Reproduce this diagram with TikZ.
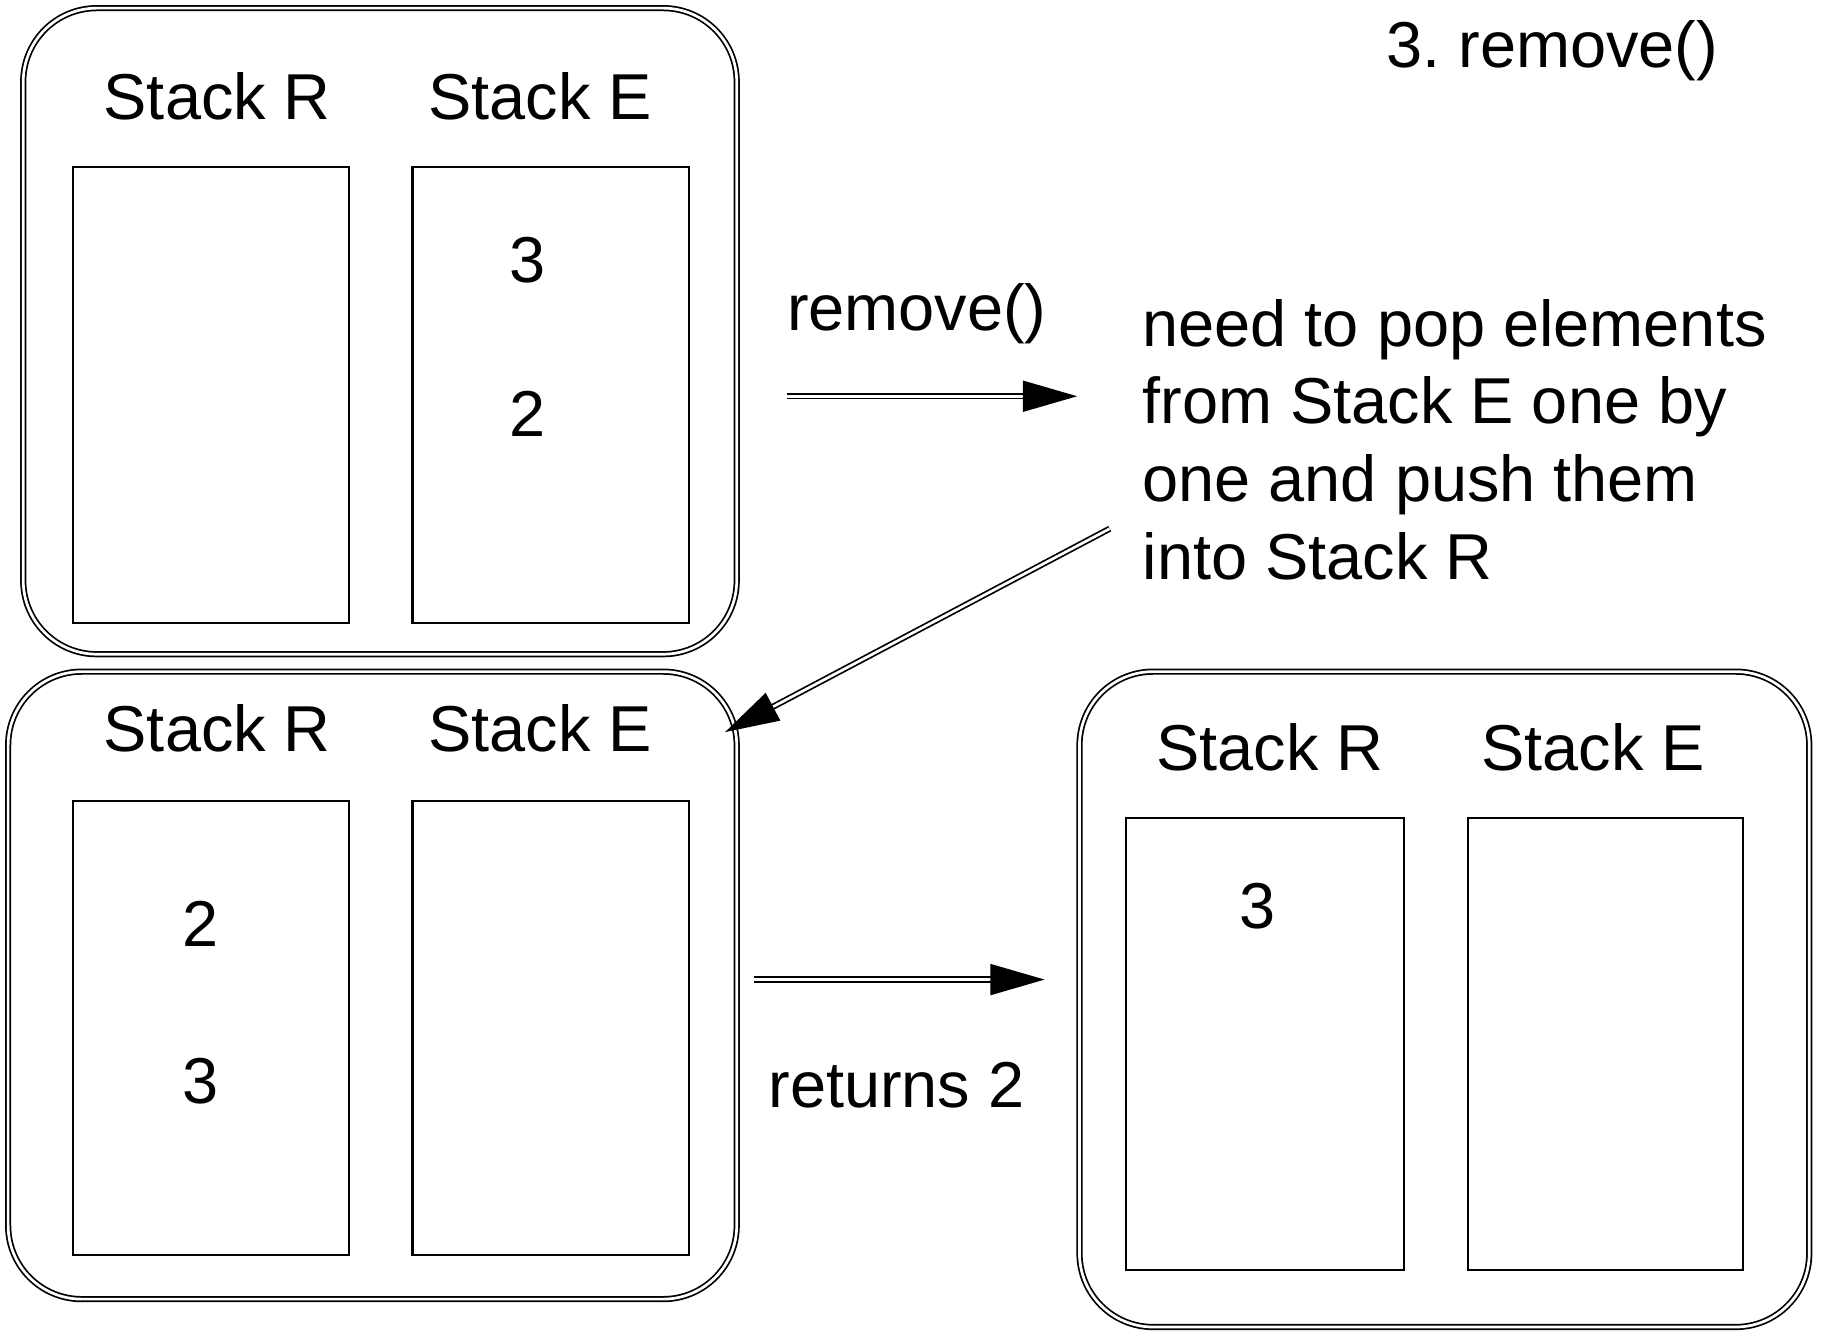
\documentclass[tikz,border=0pt]{standalone}
\usepackage{fontspec}
\setmainfont{Liberation Sans}
\usetikzlibrary{arrows.meta}
\frenchspacing
\tikzset{
  frame/.style={draw, double, line width=0.9pt, double distance=1.4pt, rounded corners=38pt},
  stackbox/.style={draw, line width=1.1pt},
  lbl/.style={inner sep=0pt, font=\fontsize{33.5}{40.2}\selectfont},
  flow/.style={double, line width=0.9pt, double distance=1.4pt,
    -{Triangle[length=28pt,width=16pt]}},
}
\begin{document}
\begin{tikzpicture}[x=0.6pt,y=-0.6pt]
\useasboundingbox (0,0) rectangle (1568,1145);

% state before remove()
\draw[frame] (20,7) rectangle (634,563);
\draw[stackbox] (63,144) rectangle (300,536);
\draw[stackbox] (355,144) rectangle (593,536);
\node[lbl] (b1r) at (187,83) {Stack R};
\node[lbl] (b1e) at (465,83) {Stack E};
\node[lbl] (b1n3) at (454,224) {3};
\node[lbl] (b1n2) at (454,356) {2};

% after moving the elements into Stack R
\draw[frame] (7,578) rectangle (634,1118);
\draw[stackbox] (63,689) rectangle (300,1080);
\draw[stackbox] (355,689) rectangle (593,1080);
\node[lbl] (b2r) at (187,627) {Stack R};
\node[lbl] (b2e) at (465,627) {Stack E};
\node[lbl] (b2n2) at (173,795) {2};
\node[lbl] (b2n3) at (173,930) {3};

% after the pop
\draw[frame] (929,578) rectangle (1557,1142);
\draw[stackbox] (969,704) rectangle (1208,1093);
\draw[stackbox] (1263,704) rectangle (1500,1093);
\node[lbl] (b3r) at (1093,643) {Stack R};
\node[lbl] (b3e) at (1371,643) {Stack E};
\node[lbl] (b3n3) at (1082,780) {3};

% captions
\node[lbl] (title) at (1336,44) {3. remove()};
\node[lbl, anchor=base west] (op) at (677,284) {remove()};
\node[lbl, anchor=base west] (ret) at (661,953) {returns 2};
\node[lbl, anchor=north west, align=left] (note) at (983,257)
  {need to pop elements\\from Stack E one by\\one and push them\\into Stack R};

% connectors
\coordinate (a1s) at (677,341);
\coordinate (a1e) at (927,341);
\coordinate (a2s) at (955,455);
\coordinate (a2e) at (624,630);
\coordinate (a3s) at (649,843);
\coordinate (a3e) at (899,843);
\draw[flow] (a1s) -- (a1e);
\draw[flow] (a2s) -- (a2e);
\draw[flow] (a3s) -- (a3e);
\end{tikzpicture}
\end{document}
